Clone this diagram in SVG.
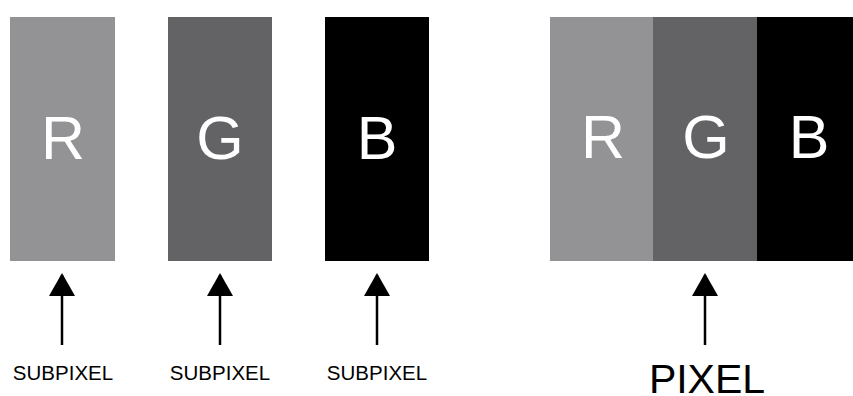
<svg xmlns="http://www.w3.org/2000/svg" width="853" height="396" viewBox="0 0 853 396">
<style>
.r{fill:#939396}.g{fill:#636365}.b{fill:#000}
.lt{font-family:"Liberation Sans",Arial,sans-serif;font-size:61px;fill:#fff;text-anchor:middle}
.sub{font-family:"Liberation Sans",Arial,sans-serif;font-size:20.5px;fill:#000;text-anchor:middle}
.px{font-family:"Liberation Sans",Arial,sans-serif;font-size:41px;fill:#000;text-anchor:middle}
.ar{stroke:#000;stroke-width:2.5;fill:none}
</style>
<defs>
<marker id="ah" markerUnits="userSpaceOnUse" markerWidth="23" markerHeight="26" refX="21" refY="13" orient="auto" viewBox="0 0 23 26">
<path d="M23 13 L0 0 L0 26 Z" fill="#000"/>
</marker>
</defs>
<rect width="853" height="396" fill="#fff"/>
<g id="sub-r"><rect class="r" x="10" y="17" width="105" height="244"/><text class="lt" x="63" y="159">R</text><text class="sub" x="63" y="380">SUBPIXEL</text></g>
<g id="sub-g"><rect class="g" x="168" y="17" width="104" height="244"/><text class="lt" x="220" y="159">G</text><text class="sub" x="220" y="380">SUBPIXEL</text></g>
<g id="sub-b"><rect class="b" x="325" y="17" width="104" height="244"/><text class="lt" x="377" y="159">B</text><text class="sub" x="377" y="380">SUBPIXEL</text></g>
<g id="pixel"><rect class="r" x="550" y="17" width="103.5" height="244"/><rect class="g" x="653" y="17" width="104.5" height="244"/><rect class="b" x="757" y="17" width="96" height="244"/>
<text class="lt" x="603" y="158">R</text><text class="lt" x="706" y="158">G</text><text class="lt" x="809" y="158">B</text>
<text class="px" x="707" y="393">PIXEL</text></g>
<g id="connectors">
<line class="ar" x1="62" y1="345" x2="62" y2="275" marker-end="url(#ah)"/>
<line class="ar" x1="220" y1="345" x2="220" y2="275" marker-end="url(#ah)"/>
<line class="ar" x1="377" y1="345" x2="377" y2="275" marker-end="url(#ah)"/>
<line class="ar" x1="705" y1="345" x2="705" y2="275" marker-end="url(#ah)"/>
</g>
</svg>
